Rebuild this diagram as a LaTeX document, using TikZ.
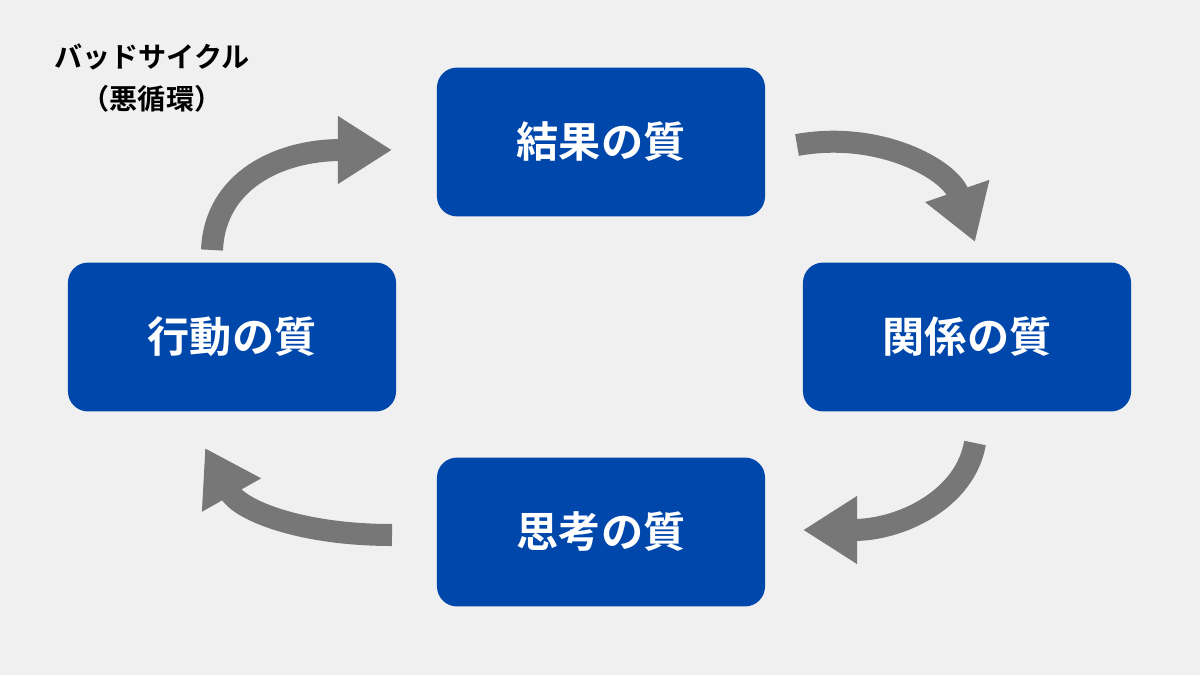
\documentclass[tikz,border=0pt]{standalone}
\usepackage{fontspec}
\newfontfamily\cjk{Noto Sans CJK JP}
\newfontfamily\cjkb{Noto Sans CJK JP Bold}
\usetikzlibrary{arrows.meta}
\definecolor{boxblue}{HTML}{0047AB}
\definecolor{arrgray}{HTML}{777777}
\definecolor{bg}{HTML}{F0F0F0}
\begin{document}
\begin{tikzpicture}[x=0.025cm,y=-0.025cm,
    quality/.style={fill=boxblue, rounded corners=0.5cm, minimum width=8.2cm, minimum height=3.72cm, text=white, font=\cjkb\fontsize{30}{36}\selectfont},
    cycle/.style={draw=arrgray, line width=0.55cm, -{Triangle[length=1.35cm, width=1.6cm]}}]
        \fill[bg] (0,0) rectangle (1200,675);

        \node (title) [font=\cjkb\fontsize{20}{30}\selectfont, align=center] at (152,78) {バッドサイクル\\（悪循環）};

        \node (result)   [quality] at (601,142) {結果の質};
        \node (relation) [quality] at (967,337) {関係の質};
        \node (thinking) [quality] at (601,532) {思考の質};
        \node (action)   [quality] at (232,337) {行動の質};

        \draw[cycle] (212,250) .. controls (215,180) and (280,150) .. (392,150);
        \draw[cycle] (797,145) .. controls (880,130) and (950,170) .. (975,242);
        \draw[cycle] (975,443) .. controls (965,500) and (900,530) .. (803,530);
        \draw[cycle] (392,535) .. controls (300,535) and (240,510) .. (205,448);
\end{tikzpicture}
\end{document}
